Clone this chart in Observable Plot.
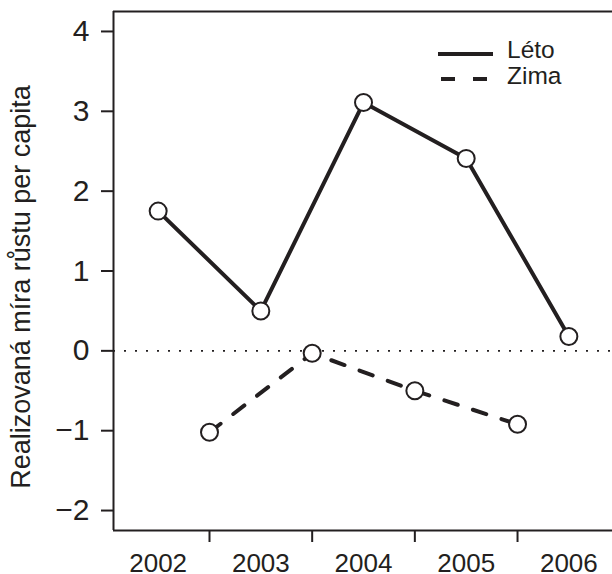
<!DOCTYPE html>
<html><head><meta charset="utf-8">
<script src="https://cdn.jsdelivr.net/npm/d3@7"></script>
<script src="https://cdn.jsdelivr.net/npm/@observablehq/plot@0.6"></script>
<style>
body{margin:0;background:#fff;}
#wrap{position:relative;width:612px;height:574px;overflow:hidden;}
#legend{position:absolute;left:0;top:0;}
</style></head><body><div id="wrap"></div>
<script>
const letoYears = [2002, 2003, 2004, 2005, 2006];
const letoValues = [1.75, 0.5, 3.11, 2.41, 0.18];
const zimaYears = [2003, 2004, 2005, 2006];
const zimaValues = [-1.02, -0.03, -0.5, -0.92];
const yTicks = [-2, -1, 0, 1, 2, 3, 4];
const xBoundaryTicks = [2003, 2004, 2005, 2006];
const xLabels = ["2002", "2003", "2004", "2005", "2006"];
const seriesNames = ["Léto", "Zima"];
const yTitle = "Realizovaná míra růstu per capita";

const ink = "#231f20";
const font = "'Liberation Sans', Arial, Helvetica, sans-serif";
const xDomain = [2002.065, 2006.925];
const yDomain = [-2.25, 4.25];

const leto = letoYears.map((y, i) => ({x: y + 0.5, v: letoValues[i]}));
const zima = zimaYears.map((y, i) => ({x: y, v: zimaValues[i]}));
const labelFor = d => xLabels[letoYears.indexOf(Math.floor(d))];
const yFmt = d => (d < 0 ? "\u2212" : "") + Math.abs(d);

const chart = Plot.plot({
  width: 612, height: 574,
  marginLeft: 113, marginRight: 0, marginTop: 11, marginBottom: 44,
  style: {fontFamily: font, color: ink, background: "#fff", overflow: "visible"},
  x: {domain: xDomain, axis: null},
  y: {domain: yDomain, axis: null},
  marks: [
    Plot.ruleY([0], {stroke: ink, strokeWidth: 1.6, strokeDasharray: "2,9"}),
    Plot.ruleY([yDomain[0]], {stroke: ink, strokeWidth: 2}),
    Plot.ruleY([yDomain[1]], {stroke: ink, strokeWidth: 2}),
    Plot.ruleX([xDomain[0]], {stroke: ink, strokeWidth: 2}),
    Plot.axisY(yTicks, {label: null, tickSize: 12, tickPadding: 12, fontSize: 30, tickFormat: yFmt, strokeWidth: 2, stroke: ink, fill: ink}),
    Plot.axisX(xBoundaryTicks, {label: null, tickSize: 12, tickFormat: () => "", strokeWidth: 2, stroke: ink}),
    Plot.axisX(leto.map(d => d.x), {label: null, tickSize: 0, tickPadding: 23, fontSize: 26, tickFormat: labelFor, fill: ink}),
    Plot.text([yTitle], {frameAnchor: "left", textAnchor: "middle", rotate: -90, dx: -92, dy: 16, fontSize: 27, fill: ink}),
    Plot.line(leto, {x: "x", y: "v", stroke: ink, strokeWidth: 4}),
    Plot.line(zima, {x: "x", y: "v", stroke: ink, strokeWidth: 4, strokeDasharray: "14,16"}),
    Plot.dot(leto, {x: "x", y: "v", r: 8.5, fill: "#fff", stroke: ink, strokeWidth: 2}),
    Plot.dot(zima, {x: "x", y: "v", r: 8.5, fill: "#fff", stroke: ink, strokeWidth: 2})
  ]
});
const wrap = document.getElementById("wrap");
wrap.appendChild(chart);

// legend overlay
const leg = d3.select(wrap).append("svg").attr("id", "legend").attr("width", 612).attr("height", 574)
  .style("font-family", font);
const legItems = [
  {name: seriesNames[0], dash: null, y: 54, x1: 438, x2: 493, base: 58},
  {name: seriesNames[1], dash: "14,18", y: 79, x1: 441, x2: 488, base: 84}
];
legItems.forEach(it => {
  leg.append("line").attr("x1", it.x1).attr("x2", it.x2).attr("y1", it.y).attr("y2", it.y)
    .attr("stroke", ink).attr("stroke-width", 4).attr("stroke-dasharray", it.dash);
  leg.append("text").attr("x", 507).attr("y", it.base)
    .attr("font-size", 24.5).attr("fill", ink).text(it.name);
});
</script></body></html>
